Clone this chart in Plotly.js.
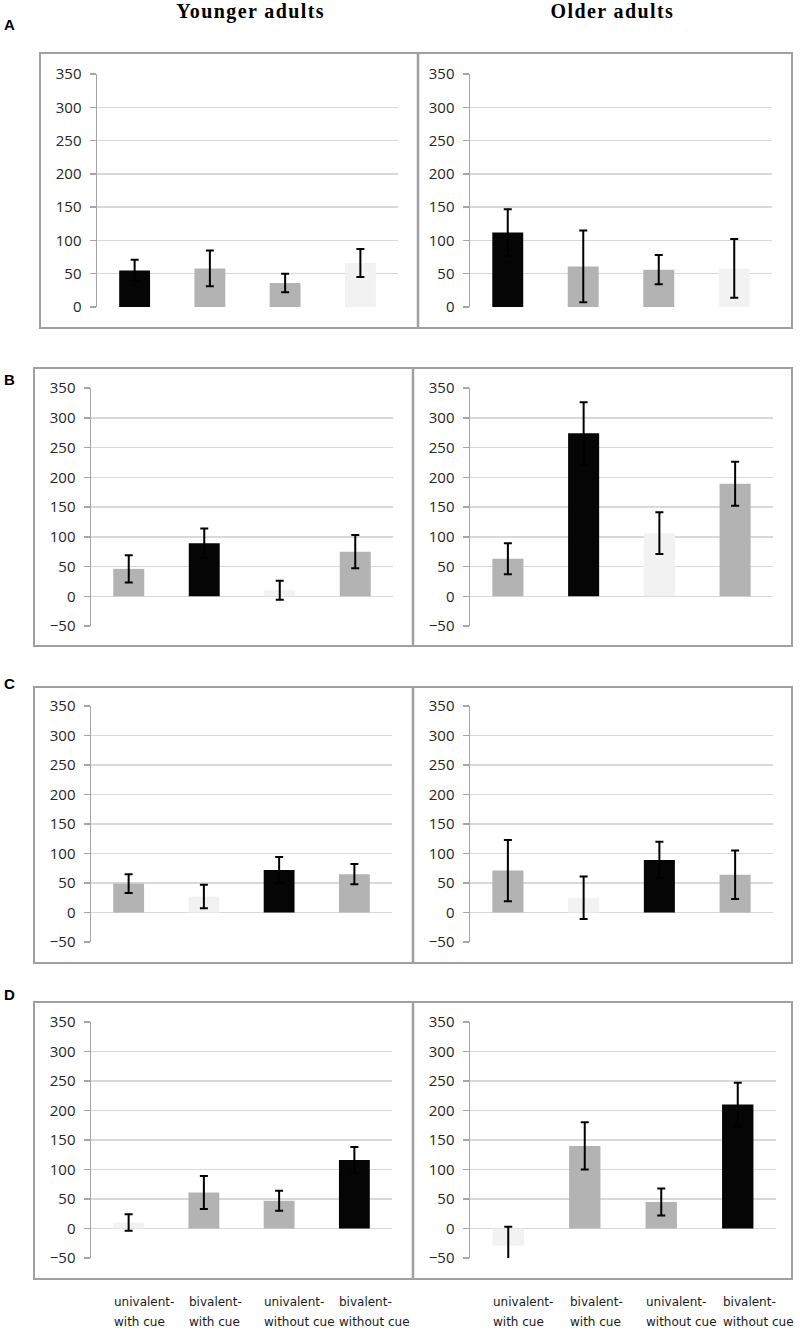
<!DOCTYPE html>
<html>
<head>
<meta charset="utf-8">
<script src="https://cdn.plot.ly/plotly-3.0.1.min.js"></script>
<style>
html,body{margin:0;padding:0;background:#fff;}
#chart{width:800px;height:1333px;}
#chart g.annotation[data-index="0"] .annotation-text,
#chart g.annotation[data-index="1"] .annotation-text{letter-spacing:1.4px;}
</style>
</head>
<body>
<div id="chart"></div>
<script>
// ---------- DATA ----------
const categories = ['univalent-with cue', 'bivalent-with cue', 'univalent-without cue', 'bivalent-without cue'];
const labelLine1 = ['univalent-', 'bivalent-', 'univalent-', 'bivalent-'];
const labelLine2 = ['with cue', 'with cue', 'without cue', 'without cue'];
const groupTitles = ['Younger adults', 'Older adults'];
const panelLetters = ['A', 'B', 'C', 'D'];

const aYounger = [55, 58, 36, 66];
const aYoungerErr = [16, 27, 14, 21];
const aOlder = [112, 61, 56, 58];
const aOlderErr = [35, 54, 22, 44];

const bYounger = [46, 89, 10, 75];
const bYoungerErr = [23, 25, 16, 28];
const bOlder = [63, 274, 106, 189];
const bOlderErr = [26, 52, 35, 37];

const cYounger = [49, 27, 72, 65];
const cYoungerErr = [16, 20, 22, 17];
const cOlder = [71, 25, 89, 64];
const cOlderErr = [52, 36, 31, 41];

const dYounger = [10, 61, 47, 116];
const dYoungerErr = [14, 28, 17, 22];
const dOlder = [-29, 140, 45, 210];
const dOlderErr = [32, 40, 23, 37];

// ---------- STYLE ----------
const K = '#050505', G = '#b3b3b3', L = '#f2f2f2';
const shades = [
  [K, G, G, L], [K, G, G, L],
  [G, K, L, G], [G, K, L, G],
  [G, L, K, G], [G, L, K, G],
  [L, G, G, K], [L, G, G, K]
];

const W = 800, H = 1333;
const px = v => v / W;
const py = v => 1 - v / H;

const series = [
  [aYounger, aYoungerErr], [aOlder, aOlderErr],
  [bYounger, bYoungerErr], [bOlder, bOlderErr],
  [cYounger, cYoungerErr], [cOlder, cOlderErr],
  [dYounger, dYoungerErr], [dOlder, dOlderErr]
];

// plot-area geometry (pixels)
const rows = [
  {top: 74, bottom: 307, ymin: 0, box: [40, 53, 792, 328], div: 418, letterY: 25},
  {top: 388, bottom: 626, ymin: -50, box: [34, 368, 792, 646], div: 413, letterY: 379},
  {top: 706, bottom: 942, ymin: -50, box: [34, 687, 792, 963], div: 413, letterY: 683},
  {top: 1022, bottom: 1258, ymin: -50, box: [34, 1002, 792, 1279], div: 413, letterY: 994}
];
const cols = [
  [[97, 398], [470, 772]],
  [[91, 393], [470, 773]],
  [[91, 392], [470, 773]],
  [[91, 392], [470, 776]]
];

const data = [];
const layout = {
  width: W, height: H, autosize: false,
  margin: {l: 0, r: 0, t: 0, b: 0},
  paper_bgcolor: '#ffffff', plot_bgcolor: 'rgba(0,0,0,0)',
  showlegend: false, bargap: 0.59,
  shapes: [], annotations: []
};

// headers first (annotation indices 0 and 1)
layout.annotations.push({
  xref: 'paper', yref: 'paper', x: px(250), y: py(11), xanchor: 'center', yanchor: 'middle',
  text: '<b>' + groupTitles[0] + '</b>', showarrow: false,
  font: {family: 'Liberation Serif, Times New Roman, serif', size: 20, color: '#000'}
});
layout.annotations.push({
  xref: 'paper', yref: 'paper', x: px(612), y: py(11), xanchor: 'center', yanchor: 'middle',
  text: '<b>' + groupTitles[1] + '</b>', showarrow: false,
  font: {family: 'Liberation Serif, Times New Roman, serif', size: 20, color: '#000'}
});

series.forEach((s, i) => {
  const r = Math.floor(i / 2), c = i % 2;
  const n = i + 1;
  const xa = n === 1 ? 'x' : 'x' + n;
  const ya = n === 1 ? 'y' : 'y' + n;
  data.push({
    type: 'bar', x: categories, y: s[0], xaxis: xa, yaxis: ya,
    marker: {color: shades[i], line: {width: 0}},
    error_y: {type: 'data', array: s[1], visible: true, color: '#000', thickness: 2, width: 4},
    hoverinfo: 'none'
  });
  const row = rows[r];
  const xd = cols[r][c];
  layout[n === 1 ? 'xaxis' : 'xaxis' + n] = {
    domain: [px(xd[0]), px(xd[1])], anchor: ya,
    type: 'category', categoryorder: 'array', categoryarray: categories,
    range: [-0.5, categories.length - 0.5], autorange: false,
    showticklabels: false, showline: false, showgrid: false, zeroline: false, ticks: '', fixedrange: true
  };
  layout[n === 1 ? 'yaxis' : 'yaxis' + n] = {
    domain: [py(row.bottom), py(row.top)], anchor: xa,
    range: [row.ymin, 350], autorange: false, dtick: 50, tick0: 0,
    showline: true, linecolor: '#a6a6a6', linewidth: 1.5,
    ticks: 'outside', ticklen: 6, tickcolor: '#a6a6a6', tickwidth: 1.5,
    ticklabelstandoff: 5,
    showgrid: true, gridcolor: '#d9d9d9', gridwidth: 1.5,
    zeroline: false,
    tickfont: {family: 'Open Sans, sans-serif', size: 15, color: '#262626'},
    fixedrange: true
  };
  if (r === 3) {
    categories.forEach((cat, k) => {
      layout.annotations.push({
        xref: xa, yref: 'paper', x: cat, y: py(1302), xanchor: 'left', yanchor: 'middle',
        xshift: -17, text: labelLine1[k], showarrow: false,
        font: {family: 'DejaVu Sans, sans-serif', size: 12, color: '#1a1a1a'}
      });
      layout.annotations.push({
        xref: xa, yref: 'paper', x: cat, y: py(1322), xanchor: 'left', yanchor: 'middle',
        xshift: -17, text: labelLine2[k], showarrow: false,
        font: {family: 'DejaVu Sans, sans-serif', size: 12, color: '#1a1a1a'}
      });
    });
  }
});

rows.forEach((row, r) => {
  const b = row.box;
  layout.shapes.push({
    type: 'rect', xref: 'paper', yref: 'paper',
    x0: px(b[0]), x1: px(b[2]), y0: py(b[3]), y1: py(b[1]),
    line: {color: '#a0a0a0', width: 2}, fillcolor: 'rgba(0,0,0,0)', layer: 'below'
  });
  layout.shapes.push({
    type: 'line', xref: 'paper', yref: 'paper',
    x0: px(row.div), x1: px(row.div), y0: py(b[3]), y1: py(b[1]),
    line: {color: '#a0a0a0', width: 2.5}, layer: 'below'
  });
  layout.annotations.push({
    xref: 'paper', yref: 'paper', x: px(2), y: py(row.letterY), xanchor: 'left', yanchor: 'middle',
    text: '<b>' + panelLetters[r] + '</b>', showarrow: false,
    font: {family: 'Liberation Sans, Arial, sans-serif', size: 15, color: '#000'}
  });
});

Plotly.newPlot('chart', data, layout, {staticPlot: true, displayModeBar: false});
</script>
</body>
</html>
